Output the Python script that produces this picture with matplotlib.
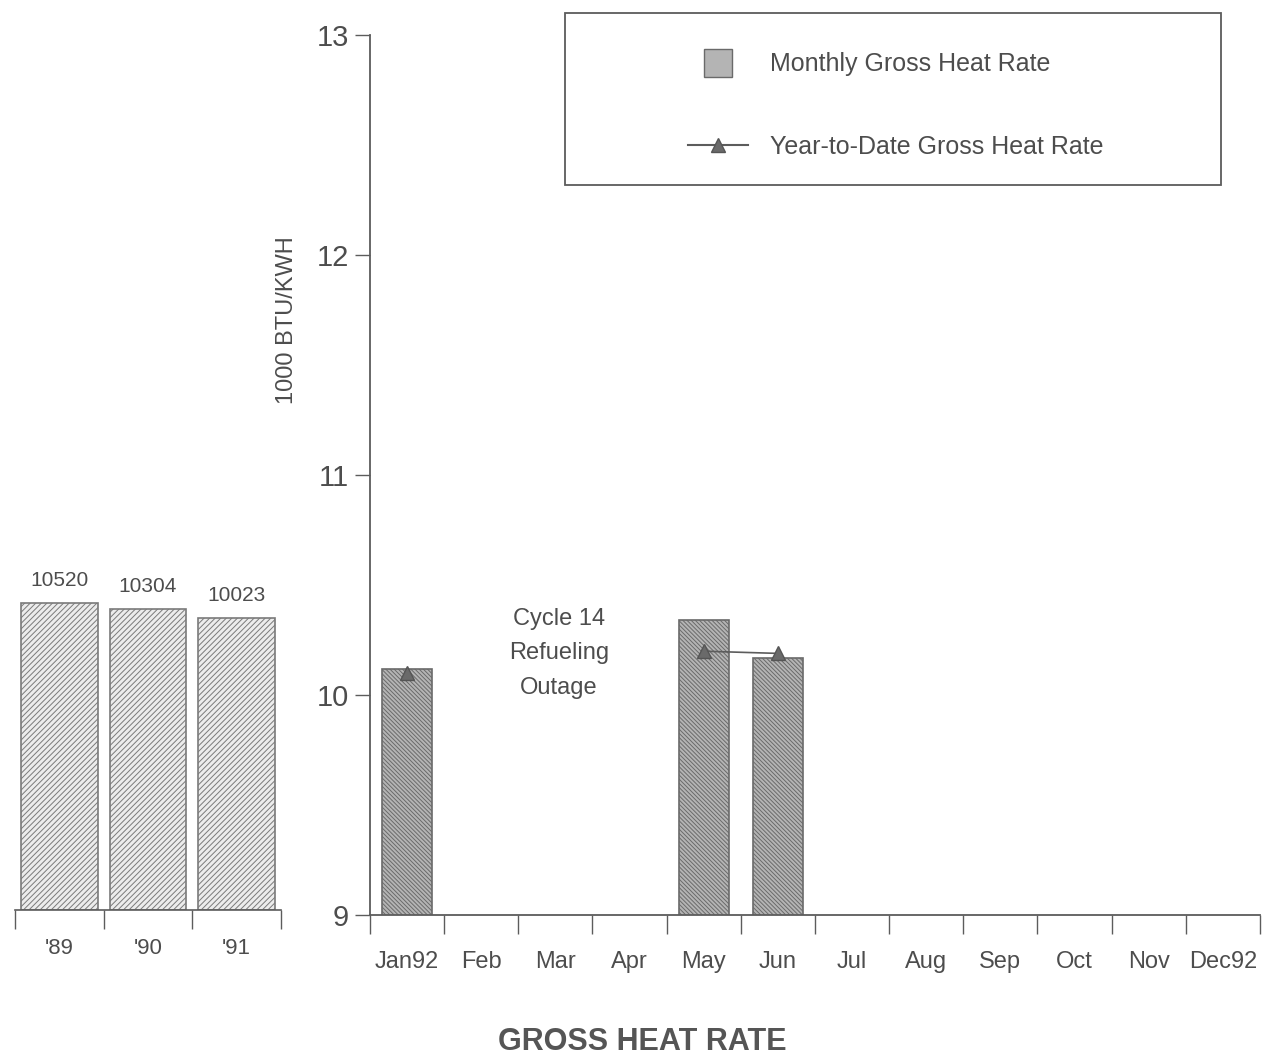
import numpy as np
import matplotlib
matplotlib.use("Agg")
import matplotlib.pyplot as plt
from matplotlib.lines import Line2D
from matplotlib.patches import Rectangle

# ── data ──
YEARS = ["'89", "'90", "'91"]
YEAR_VALUES = [10520, 10304, 10023]          # BTU/KWH, annual gross heat rate

MONTHS = ["Jan92", "Feb", "Mar", "Apr", "May", "Jun",
          "Jul", "Aug", "Sep", "Oct", "Nov", "Dec92"]
MONTHLY = [10.12, np.nan, np.nan, np.nan, 10.34, 10.17,
           np.nan, np.nan, np.nan, np.nan, np.nan, np.nan]   # 1000 BTU/KWH
YTD = [10.10, np.nan, np.nan, np.nan, 10.20, 10.19,
       np.nan, np.nan, np.nan, np.nan, np.nan, np.nan]

INK = "#4d4d4d"
LINE = "#5c5c5c"
plt.rcParams["font.family"] = ["Liberation Sans", "DejaVu Sans"]
plt.rcParams["hatch.linewidth"] = 0.7

fig = plt.figure(figsize=(12.65, 10.63), dpi=100)

# ── left panel: annual values ──
axl = fig.add_axes([0.012, 0.144, 0.210, 0.823])
xl = np.arange(len(YEARS))
bars = axl.bar(xl, YEAR_VALUES, width=0.86, color="#ececec", edgecolor="#7a7a7a",
               hatch="//////", linewidth=1.2)
for b, v in zip(bars, YEAR_VALUES):
    axl.text(b.get_x() + b.get_width() / 2, v + 450, str(v), ha="center", va="bottom",
             fontsize=15, color=INK)
axl.set_xlim(-0.5, len(YEARS) - 0.5)
axl.set_ylim(0, 30000)
axl.set_xticks(np.arange(-0.5, len(YEARS)), labels=[])
axl.set_xticks(xl, labels=YEARS, minor=True)
axl.tick_params(axis="x", which="major", length=14, width=1, color=LINE, direction="out")
axl.tick_params(axis="x", which="minor", length=0, pad=20, labelsize=16, labelcolor=INK)
axl.set_yticks([])
for s in ["left", "right", "top"]:
    axl.spines[s].set_visible(False)
axl.spines["bottom"].set_color(LINE)
axl.spines["bottom"].set_linewidth(1.2)

# ── right panel: monthly values ──
ax = fig.add_axes([0.2925, 0.139, 0.7035, 0.828])
x = np.arange(len(MONTHS))
ax.bar(x, MONTHLY, width=0.68, color="#b4b4b4", edgecolor="#6a6a6a",
       hatch="\\\\\\\\\\\\\\\\", linewidth=1.2)
ax.plot(x, YTD, color=LINE, linewidth=1.2, marker="^", markersize=10,
        markerfacecolor="#6a6a6a", markeredgecolor="#555555")
ax.text(2.05, 10.19, "Cycle 14\nRefueling\nOutage", ha="center", va="center",
        fontsize=17, color=INK, linespacing=1.75)

ax.set_xlim(-0.5, len(MONTHS) - 0.5)
ax.set_ylim(9, 13)
ax.set_yticks([9, 10, 11, 12, 13])
ax.tick_params(axis="y", length=11, width=1, color=LINE, pad=4, labelsize=21, labelcolor=INK)
ax.set_xticks(np.arange(-0.5, len(MONTHS)), labels=[])
ax.set_xticks(x, labels=MONTHS, minor=True)
ax.tick_params(axis="x", which="major", length=14, width=1, color=LINE, direction="out")
ax.tick_params(axis="x", which="minor", length=0, pad=26, labelsize=17, labelcolor=INK)
for s in ["right", "top"]:
    ax.spines[s].set_visible(False)
for s in ["left", "bottom"]:
    ax.spines[s].set_color(LINE)
    ax.spines[s].set_linewidth(1.3)

fig.text(287 / 1265, 1 - 320 / 1063, "1000 BTU/KWH", rotation=90, ha="center",
         va="center", fontsize=17, color=INK)

# legend box + entries
fig.add_artist(Rectangle((0.4466, 0.826), 0.519, 0.162, transform=fig.transFigure,
                         fill=False, edgecolor=LINE, linewidth=1.3))
handles = [
    Line2D([], [], marker="s", markersize=20, linestyle="none",
           markerfacecolor="#b4b4b4", markeredgecolor="#6a6a6a"),
    Line2D([], [], color=LINE, marker="^", markersize=10,
           markerfacecolor="#6a6a6a", markeredgecolor="#555555"),
]
fig.legend(handles, ["Monthly Gross Heat Rate", "Year-to-Date Gross Heat Rate"],
           loc="upper left", bbox_to_anchor=(0.526, 0.972), frameon=False,
           fontsize=18, labelspacing=2.35, handlelength=2.4, handletextpad=0.9,
           labelcolor=INK)

fig.text(0.508, 0.006, "GROSS HEAT RATE", ha="center", va="bottom",
         fontsize=22, fontweight="bold", color="#555555")

fig.savefig("out.png", dpi=100)
